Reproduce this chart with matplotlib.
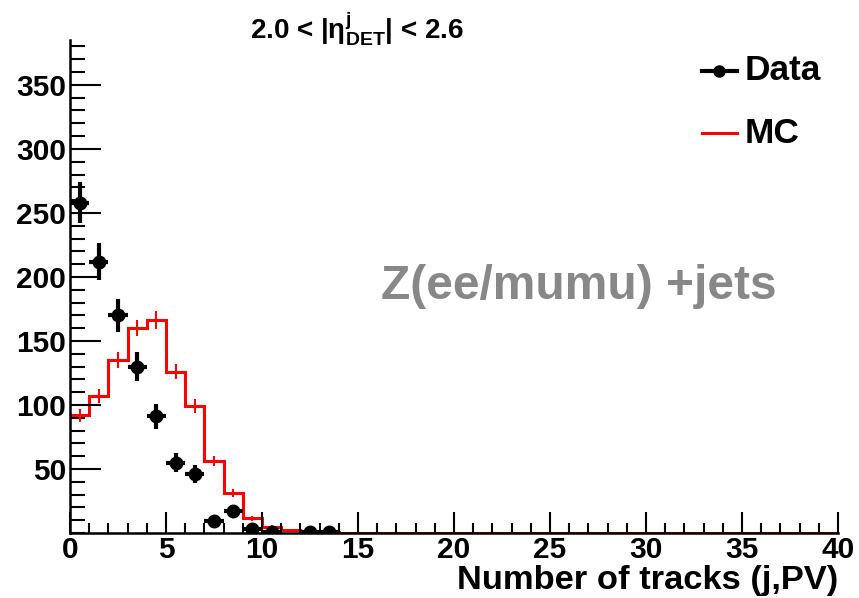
import numpy as np
import matplotlib.pyplot as plt
from matplotlib.ticker import MultipleLocator

plt.rcParams['font.family'] = ['Liberation Sans', 'DejaVu Sans']
plt.rcParams['font.weight'] = 'bold'
plt.rcParams['mathtext.fontset'] = 'custom'
plt.rcParams['mathtext.rm'] = 'Liberation Sans:bold'
plt.rcParams['mathtext.it'] = 'Liberation Sans:bold'
plt.rcParams['mathtext.bf'] = 'Liberation Sans:bold'

#-------------------------------------------------------------------------

data_x = [0.5, 1.5, 2.5, 3.5, 4.5, 5.5, 6.5, 7.5, 8.5, 9.5, 10.5, 12.5, 13.5]
data_y = [258, 212, 170, 130, 91, 55, 46, 9, 17.5, 3, 1, 1, 1]
data_err = [16, 14.5, 13, 11.4, 9.6, 7.4, 6.8, 3, 4.2, 1.7, 1, 1, 1]

mc_edges = np.arange(0, 41)
mc_y = [92, 107, 135, 160, 166, 126, 99, 56, 31, 11.5, 5, 2.5, 0.8, 0.5, 0.2] + [0] * 25
mc_err = [5, 5.5, 6, 6.5, 7, 6, 5.5, 4, 3, 2, 1.2, 0.8, 0.4, 0.3, 0.2] + [0] * 25

#-------------------------------------------------------------------------

fig = plt.figure(figsize = (8.59, 5.98), dpi = 100)
ax = fig.add_axes([0.0815, 0.1087, 0.8941, 0.8243])

mc_centers = mc_edges[:-1] + 0.5
ax.stairs(mc_y, mc_edges, color = "red", linewidth = 2.2, baseline = None)
ax.errorbar(mc_centers[:15], mc_y[:15], yerr = mc_err[:15], fmt = "none",
            ecolor = "red", elinewidth = 1.5)

ax.errorbar(data_x, data_y, xerr = 0.5, yerr = data_err, fmt = "o", color = "black",
            markersize = 9, elinewidth = 3, capsize = 0, zorder = 5)

ax.set_xlim(0, 40)
ax.set_ylim(0, 385)

ax.spines["top"].set_visible(False)
ax.spines["right"].set_visible(False)
ax.spines["left"].set_linewidth(1.8)
ax.spines["bottom"].set_linewidth(1.8)

ax.xaxis.set_major_locator(MultipleLocator(5))
ax.xaxis.set_minor_locator(MultipleLocator(1))
ax.yaxis.set_major_locator(MultipleLocator(50))
ax.yaxis.set_minor_locator(MultipleLocator(10))

ax.tick_params(which = "both", direction = "in", labelsize = 21.5, width = 1.5)
ax.tick_params(axis = "x", which = "major", length = 15, pad = 2)
ax.tick_params(axis = "x", which = "minor", length = 7)
ax.tick_params(axis = "y", which = "major", length = 22, pad = 3)
ax.tick_params(axis = "y", which = "minor", length = 11)

yticks = [50, 100, 150, 200, 250, 300, 350]
ax.set_yticks(yticks)
ax.set_yticklabels([str(t) for t in yticks])
xticks = np.arange(0, 41, 5)
ax.set_xticks(xticks)
ax.set_xticklabels([str(t) for t in xticks])

ax.set_xlabel("Number of tracks (j,PV)", fontsize = 24.8, fontweight = "bold", loc = "right", labelpad = 1)

fig.text(0.4156, 0.953, r"2.0 < $|\mathrm{\eta}^{\mathrm{j}}_{\mathrm{DET}}|$ < 2.6",
         ha = "center", va = "center", fontsize = 20, fontweight = "bold")

ax.text(0.662, 0.5, "Z(ee/mumu) +jets", transform = ax.transAxes, ha = "center", va = "center",
        fontsize = 34.5, fontweight = "bold", color = "#888888")

# legend
ax.plot([0.823, 0.868], [0.938, 0.938], transform = ax.transAxes, color = "black", linewidth = 3, clip_on = False)
ax.plot([0.8455], [0.938], "o", transform = ax.transAxes, color = "black", markersize = 8, clip_on = False)
ax.text(0.879, 0.938, "Data", transform = ax.transAxes, ha = "left", va = "center", fontsize = 25.4, fontweight = "bold")
ax.plot([0.823, 0.868], [0.811, 0.811], transform = ax.transAxes, color = "red", linewidth = 2.2, clip_on = False)
ax.text(0.879, 0.811, "MC", transform = ax.transAxes, ha = "left", va = "center", fontsize = 25.4, fontweight = "bold")

plt.savefig("out.png", dpi = 100)
